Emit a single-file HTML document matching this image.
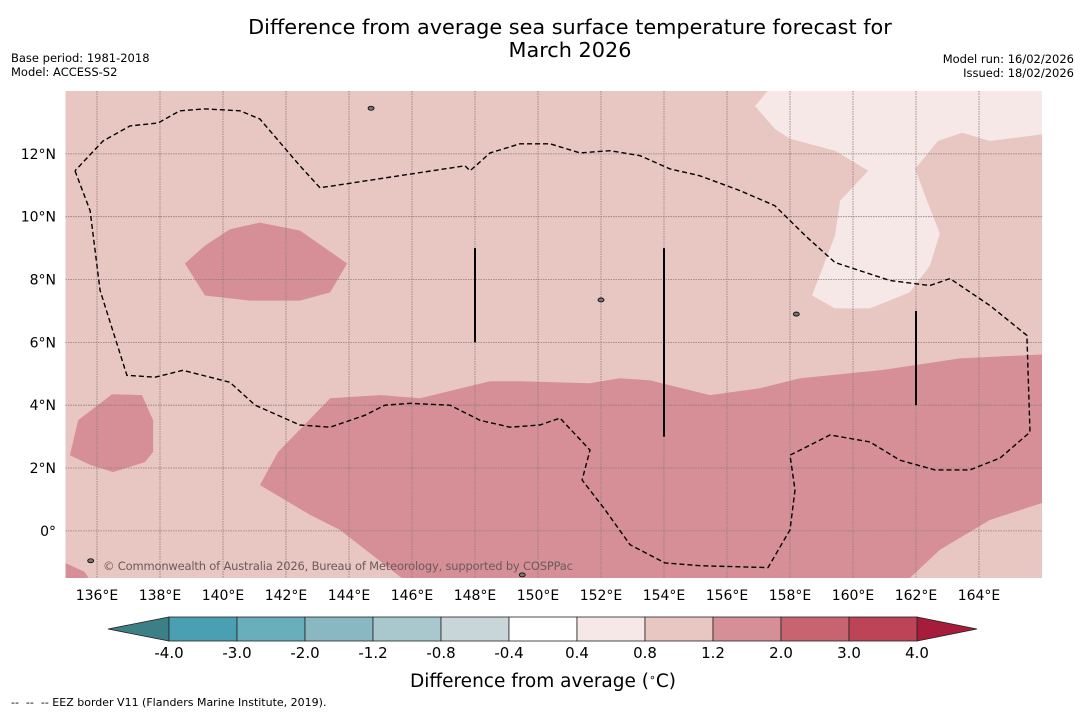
<!DOCTYPE html>
<html><head><meta charset="utf-8"><style>
body{margin:0;background:#fff;width:1085px;height:713px;overflow:hidden;font-family:"Liberation Sans","DejaVu Sans",sans-serif}
svg{position:absolute;left:0;top:0}
</style></head><body>
<svg id="c" width="1085" height="713" font-family="DejaVu Sans, Liberation Sans, sans-serif">
<text x="570" y="34" font-size="20.8" text-anchor="middle">Difference from average sea surface temperature forecast for</text>
<text x="570" y="57" font-size="20.8" text-anchor="middle">March 2026</text>
<text x="11" y="62" font-size="11.5">Base period: 1981-2018</text>
<text x="11" y="76" font-size="11.5">Model: ACCESS-S2</text>
<text x="1074" y="63" font-size="11.5" text-anchor="end">Model run: 16/02/2026</text>
<text x="1074" y="77" font-size="11.5" text-anchor="end">Issued: 18/02/2026</text>
<g id="map"></g>
<g id="cbar"></g>
<text x="543" y="687" font-size="18.5" text-anchor="middle">Difference from average (<tspan baseline-shift="super" font-size="11">∘</tspan>C)</text>
<text x="11" y="706" font-size="11" xml:space="preserve">--  --  -- EEZ border V11 (Flanders Marine Institute, 2019).</text>
</svg>
<script>
const lonTicks=[136,138,140,142,144,146,148,150,152,154,156,158,160,162,164];
const latTicks=[0,2,4,6,8,10,12];
const levels=["-4.0","-3.0","-2.0","-1.2","-0.8","-0.4","0.4","0.8","1.2","2.0","3.0","4.0"];
const levelColors=["#4aa0b2","#68aebb","#89b8c3","#a8c8cd","#c8d6d9","#ffffff","#f5e8e6","#e8c6c2","#d68f97","#c76470","#bc4456"];
const darkMain=[[141.17,1.46],[141.75,2.51],[143.4,4.22],[145.0,4.32],[146.25,4.22],[148.48,4.76],[149.43,4.76],[151.65,4.70],[152.6,4.86],[153.56,4.79],[155.46,4.32],[157.05,4.54],[158.32,4.86],[160.86,5.11],[163.4,5.49],[166.1,5.62],[166.1,0.92],[164.35,0.35],[162.76,-0.6],[161.7,-1.6],[145.8,-1.6],[143.71,0.03],[142.76,0.51]];
const darkUpper=[[138.79,8.51],[139.43,9.08],[140.22,9.6],[141.17,9.81],[142.44,9.56],[143.94,8.51],[143.4,7.59],[142.44,7.33],[140.86,7.33],[139.43,7.49]];
const darkLeft=[[135.14,2.41],[135.4,3.52],[136.48,4.35],[137.43,4.32],[137.78,3.52],[137.78,2.51],[137.52,2.19],[136.51,1.87],[135.78,2.1]];
const darkCorner=[[134.9,-0.98],[135.6,-1.3],[135.8,-1.6],[134.9,-1.6]];
const lightNE=[[157.37,14.1],[156.89,13.52],[157.52,12.79],[158.0,12.48],[159.43,12.1],[160.48,11.46],[159.59,10.51],[159.43,9.4],[158.7,7.49],[159.43,7.08],[160.54,7.08],[161.8,7.59],[162.44,8.44],[162.76,9.46],[162.29,10.67],[161.97,11.52],[162.7,12.41],[163.46,12.67],[164.35,12.41],[166.1,12.63],[166.1,14.1]];
const eez=[[135.30,11.46],[135.78,10.19],[136.10,7.65],[136.95,4.95],[137.84,4.89],[138.73,5.11],[140.22,4.73],[141.02,4.0],[142.44,3.37],[143.40,3.30],[144.51,3.68],[145.14,4.0],[145.94,4.06],[147.21,4.0],[148.16,3.52],[149.11,3.30],[150.06,3.37],[150.70,3.59],[151.65,2.57],[151.40,1.62],[152.13,0.67],[152.92,-0.44],[154.03,-1.02],[155.14,-1.11],[157.30,-1.17],[158.0,0.03],[158.16,1.30],[158.0,2.41],[159.27,3.05],[160.54,2.83],[161.49,2.25],[162.6,1.94],[163.71,1.94],[164.67,2.32],[165.62,3.14],[165.52,6.22],[164.35,7.17],[163.08,8.03],[162.44,7.81],[161.17,7.97],[159.43,8.54],[158.48,9.40],[157.52,10.35],[156.41,10.83],[155.14,11.30],[154.19,11.52],[153.24,11.94],[152.29,12.10],[151.33,12.03],[150.38,12.32],[149.43,12.32],[148.48,12.03],[147.84,11.46],[147.68,11.62],[143.08,10.92],[142.44,11.62],[141.17,13.11],[140.54,13.37],[139.43,13.43],[138.63,13.37],[137.94,12.98],[137.05,12.89],[136.19,12.41],[135.30,11.46]];
const segLon=[148,154,162];
const segLat0=[6,3,4];
const segLat1=[9,9,7];
const islands=[[144.7,13.45],[158.2,6.9],[135.8,-0.95],[149.5,-1.4],[152.0,7.35]];

const L=65.5,R=1042,T=91,B=578,lon0=135,lon1=166,lat0=-1.5,lat1=14;
const X=v=>L+(v-lon0)/(lon1-lon0)*(R-L);
const Y=v=>B-(v-lat0)/(lat1-lat0)*(B-T);
const NS="http://www.w3.org/2000/svg";
const map=document.getElementById('map');
function mk(tag,attrs,parent){const e=document.createElementNS(NS,tag);for(const k in attrs)e.setAttribute(k,attrs[k]);parent.appendChild(e);return e;}
const defs=mk('defs',{},map);
const cp=mk('clipPath',{id:'clip'},defs);mk('rect',{x:L,y:T,width:R-L,height:B-T},cp);
const g=mk('g',{'clip-path':'url(#clip)'},map);
const bg=mk('rect',{x:L,y:T,width:R-L,height:B-T,fill:'#e8c6c2'},g);


const pts=a=>a.map(p=>X(p[0]).toFixed(1)+','+Y(p[1]).toFixed(1)).join(' ');
[[darkMain,'#d68f97','anomaly-region-main'],[darkUpper,'#d68f97','anomaly-region-north'],[darkLeft,'#d68f97','anomaly-region-west'],[darkCorner,'#d68f97','anomaly-region-corner'],[lightNE,'#f5e8e6','anomaly-region-light']].forEach(s=>{
 const p=mk('polygon',{points:pts(s[0]),fill:s[1]},g);
 
 
});
lonTicks.forEach(v=>{
 const l=mk('line',{x1:X(v),x2:X(v),y1:T,y2:B,stroke:'#8c7c7c','stroke-width':0.8,'stroke-dasharray':'1.5,1'},g);
 
 
 const t=mk('text',{x:X(v),y:600,'font-size':14,'text-anchor':'middle'},map);t.textContent=v+'°E';
 
 
});
latTicks.forEach(v=>{
 const l=mk('line',{x1:L,x2:R,y1:Y(v),y2:Y(v),stroke:'#8c7c7c','stroke-width':0.8,'stroke-dasharray':'1.5,1'},g);
 
 
 const t=mk('text',{x:56,y:Y(v)+5,'font-size':14,'text-anchor':'end'},map);t.textContent=v===0?'0°':v+'°N';
 
 
});
islands.forEach(p=>{
 const e=mk('ellipse',{cx:X(p[0]),cy:Y(p[1]),rx:3,ry:2,fill:'#777',stroke:'#000','stroke-width':0.8},g);
 
 
});
const ez=mk('polyline',{points:pts(eez),fill:'none',stroke:'#000','stroke-width':1.4,'stroke-dasharray':'5,3'},g);


segLon.forEach((v,i)=>{
 const l=mk('line',{x1:X(v),x2:X(v),y1:Y(segLat0[i]),y2:Y(segLat1[i]),stroke:'#000','stroke-width':2},g);
 
 
});
const cr=mk('text',{x:103,y:570,'font-size':11.5,fill:'#6b5b5b','textLength':470},g);cr.textContent='© Commonwealth of Australia 2026, Bureau of Meteorology, supported by COSPPac';



const cb=document.getElementById('cbar');
const c0=169,cw=68,cy=617,ch=24;
const la=mk('polygon',{points:`108,${cy+ch/2} ${c0},${cy} ${c0},${cy+ch}`,fill:'#3d7f86',stroke:'#222','stroke-width':0.8},cb);


const n=levelColors.length;
const ra=mk('polygon',{points:`${c0+n*cw},${cy} ${c0+n*cw+60},${cy+ch/2} ${c0+n*cw},${cy+ch}`,fill:'#a71c3a',stroke:'#222','stroke-width':0.8},cb);


levelColors.forEach((c,i)=>{
 const r=mk('rect',{x:c0+i*cw,y:cy,width:cw,height:ch,fill:c,stroke:'#222','stroke-width':0.8},cb);
 
 
});
levels.forEach((v,i)=>{
 const t=mk('text',{x:c0+i*cw,y:658,'font-size':15,'text-anchor':'middle'},cb);t.textContent=v;
 
 
});
</script>
</body></html>
